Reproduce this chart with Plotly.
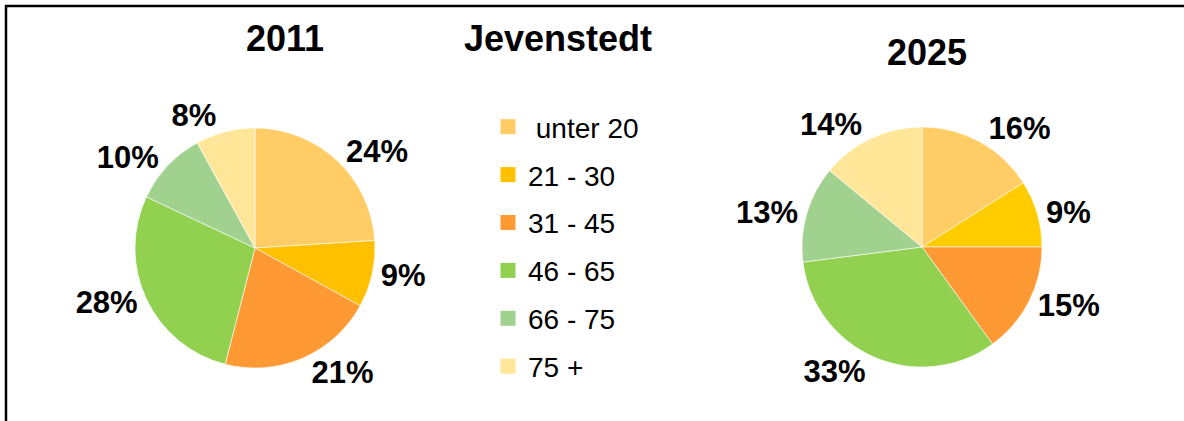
import plotly.graph_objects as go

categories = [" unter 20", "21 - 30", "31 - 45", "46 - 65", "66 - 75", "75 +"]
values_2011 = [24, 9, 21, 28, 10, 8]
values_2025 = [16, 9, 15, 33, 13, 14]
colors = ["#FFCC66", "#FFC000", "#FF9933", "#92D050", "#A1D18F", "#FFE699"]
colors_2025 = ["#FFCC66", "#FFCC00", "#FF9933", "#92D050", "#A1D18F", "#FFE699"]
titles = ["2011", "Jevenstedt", "2025"]

W, H = 1184, 421

def px(x0, x1):
    return [x0 / W, x1 / W]

def py(y0, y1):
    # y given from top in pixels
    return [1 - y1 / H, 1 - y0 / H]

fig = go.Figure()

label_font = dict(family="Liberation Sans, Arial", size=31, color="black")

for vals, cols, dom_x, dom_y in [
    (values_2011, colors, px(135, 375), py(128, 368)),
    (values_2025, colors_2025, px(802, 1042), py(127, 367)),
]:
    fig.add_trace(go.Pie(
        labels=categories, values=vals, sort=False, direction="clockwise",
        rotation=0, marker=dict(colors=cols, line=dict(color="white", width=0.6)),
        texttemplate="<b>%{percent:.0%}</b>", textposition="outside",
        textfont=label_font, showlegend=False, hoverinfo="label+percent",
        domain=dict(x=dom_x, y=dom_y),
    ))

# legend entries (one group per category for spacing)
for i, (cat, col) in enumerate(zip(categories, colors)):
    fig.add_trace(go.Scatter(
        x=[None], y=[None], mode="markers", name=cat,
        marker=dict(symbol="square", size=15, color=col),
        legendgroup=f"g{i}", showlegend=True,
    ))

title_font = dict(family="Liberation Sans, Arial", size=36, color="black")
for t, x, y in zip(titles, [285, 558, 927], [39, 39, 53]):
    fig.add_annotation(text=f"<b>{t}</b>", x=x / W, y=1 - y / H, xref="paper", yref="paper",
                       showarrow=False, font=title_font, xanchor="center", yanchor="middle")

# frame: top and left edges (right/bottom edges lie outside the picture)
frame = dict(color="black", width=2.5)
fig.add_shape(type="line", xref="paper", yref="paper",
              x0=5 / W, x1=1.0, y0=1 - 6 / H, y1=1 - 6 / H, line=frame)
fig.add_shape(type="line", xref="paper", yref="paper",
              x0=6 / W, x1=6 / W, y0=0.0, y1=1 - 5 / H, line=frame)

fig.update_layout(
    width=W, height=H,
    margin=dict(l=0, r=0, t=0, b=0),
    paper_bgcolor="white", plot_bgcolor="white",
    xaxis=dict(visible=False, fixedrange=True), yaxis=dict(visible=False, fixedrange=True),
    dragmode=False, hovermode=False,
    legend=dict(x=488 / W, y=1 - 102 / H, xanchor="left", yanchor="top",
                font=dict(family="Liberation Sans, Arial", size=28, color="black"),
                tracegroupgap=8.5, bgcolor="rgba(0,0,0,0)", itemclick=False),
)

fig.write_html("out.html", config={"displayModeBar": False, "staticPlot": True},
               post_script="document.body.style.margin='0';document.body.style.overflow='hidden';")
